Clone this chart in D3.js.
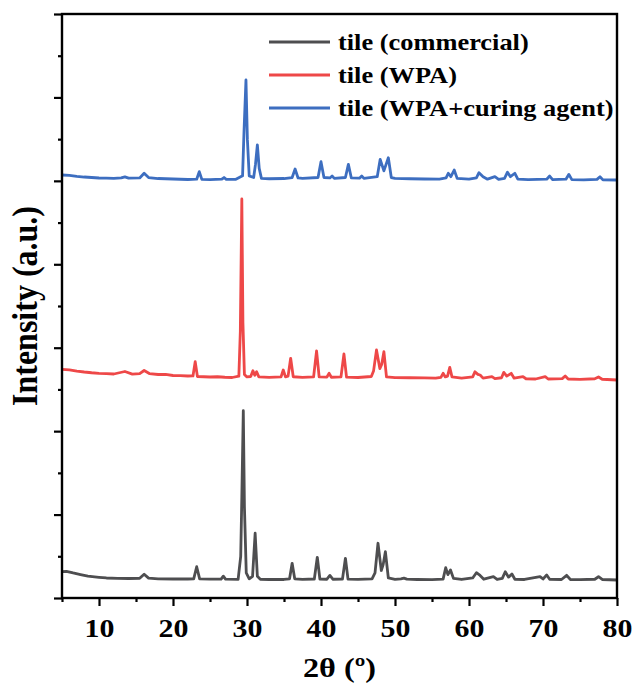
<!DOCTYPE html>
<html><head><meta charset="utf-8">
<script src="https://cdn.jsdelivr.net/npm/d3@7"></script>
<style>
body{margin:0;background:#fff}
svg{display:block}
text{font-family:"Liberation Serif","Times New Roman",serif;font-weight:bold;fill:#000}
</style>
</head><body>
<svg id="c" width="635" height="684"></svg>
<script>
// ---- data (2θ in degrees, stacked intensity in a.u.) ----
const seriesNames = ["tile (commercial)", "tile (WPA)", "tile (WPA+curing agent)"];
const seriesColors = ["#4e4e50", "#ee4848", "#3d6ec0"];

const commercial = [[5,0.315],[5.6,0.32],[6.5,0.30],[7.5,0.28],[8.5,0.262],[10,0.248],[11,0.24],[12.5,0.236],[14,0.234],[15.5,0.236],[16.1,0.285],[16.7,0.238],[18,0.23],[20,0.228],[22,0.228],[22.8,0.23],[23.2,0.375],[23.6,0.23],[25,0.226],[26.5,0.226],[26.8,0.262],[27.1,0.226],[28.8,0.224],[29.15,0.5],[29.3,1.2],[29.5,2.245],[29.65,1.1],[29.9,0.3],[30.3,0.23],[30.75,0.26],[31.1,0.776],[31.4,0.26],[31.8,0.225],[33,0.222],[35,0.222],[35.75,0.23],[36.1,0.416],[36.45,0.23],[37.5,0.224],[39.1,0.228],[39.5,0.488],[39.85,0.228],[40.8,0.225],[41.2,0.27],[41.6,0.225],[42.9,0.226],[43.3,0.476],[43.65,0.226],[45,0.224],[46.9,0.23],[47.3,0.3],[47.7,0.656],[48.15,0.33],[48.4,0.4],[48.7,0.555],[49.1,0.24],[50,0.224],[50.8,0.23],[51.2,0.238],[51.6,0.226],[53,0.222],[55,0.22],[56.5,0.226],[56.85,0.363],[57.15,0.28],[57.5,0.336],[57.9,0.235],[59,0.222],[60.5,0.24],[61,0.303],[61.5,0.27],[62,0.225],[63.3,0.255],[63.8,0.222],[64.5,0.235],[64.9,0.315],[65.35,0.25],[65.8,0.288],[66.2,0.225],[67.5,0.222],[69.6,0.255],[70,0.228],[70.5,0.276],[70.9,0.225],[72.5,0.222],[73.2,0.272],[73.7,0.222],[75,0.22],[77,0.225],[77.5,0.255],[78,0.222],[80,0.216]];

const wpa = [[5,2.741],[6,2.735],[7,2.72],[8,2.709],[9,2.70],[10,2.693],[11,2.69],[12,2.685],[13.5,2.715],[14.5,2.684],[15.5,2.69],[16.1,2.727],[16.8,2.69],[18,2.679],[19,2.68],[20,2.667],[21,2.665],[22,2.661],[22.7,2.662],[23.0,2.832],[23.3,2.655],[25,2.649],[26,2.652],[27,2.646],[28,2.643],[28.9,2.66],[29.1,3.2],[29.3,4.783],[29.45,3.3],[29.65,2.68],[30,2.65],[30.5,2.655],[30.8,2.724],[31.05,2.67],[31.3,2.712],[31.6,2.65],[33,2.645],[34.6,2.65],[34.9,2.733],[35.2,2.65],[35.55,2.66],[35.9,2.873],[36.25,2.652],[37.5,2.645],[39,2.65],[39.4,2.961],[39.75,2.65],[40.8,2.648],[41.1,2.693],[41.4,2.646],[42.7,2.65],[43.1,2.925],[43.45,2.648],[45,2.643],[46.8,2.655],[47.1,2.72],[47.5,2.973],[47.95,2.75],[48.2,2.80],[48.5,2.952],[48.85,2.65],[50,2.642],[52,2.64],[54,2.638],[55.5,2.635],[56.2,2.645],[56.5,2.693],[56.8,2.65],[57.1,2.66],[57.4,2.765],[57.7,2.65],[59,2.635],[60.5,2.65],[60.8,2.712],[61.2,2.68],[61.5,2.673],[61.9,2.635],[63.1,2.653],[63.5,2.63],[64.4,2.64],[64.7,2.705],[65.1,2.66],[65.7,2.693],[66.1,2.635],[67.3,2.653],[67.7,2.628],[69,2.625],[70.3,2.653],[70.7,2.625],[72.6,2.63],[73,2.661],[73.4,2.625],[75,2.62],[77,2.628],[77.5,2.649],[78,2.622],[80,2.613]];

const wpaCuring = [[5,5.07],[6,5.066],[7,5.055],[8,5.046],[9,5.04],[10,5.034],[11,5.033],[12,5.03],[13,5.035],[13.5,5.048],[14,5.032],[15.5,5.035],[16.1,5.091],[16.7,5.04],[18,5.028],[20,5.022],[22,5.016],[23.2,5.02],[23.55,5.11],[23.9,5.018],[25,5.015],[26.6,5.02],[26.9,5.04],[27.2,5.018],[28.5,5.018],[29.4,5.06],[29.6,5.6],[29.86,6.209],[30.05,5.5],[30.3,5.06],[30.9,5.04],[31.15,5.2],[31.4,5.43],[31.65,5.15],[31.95,5.03],[33,5.025],[35,5.028],[36.1,5.04],[36.5,5.142],[36.9,5.035],[37.5,5.03],[39.6,5.04],[40.0,5.23],[40.4,5.04],[41.2,5.035],[41.5,5.058],[41.8,5.03],[43.3,5.04],[43.7,5.198],[44.1,5.035],[45.2,5.032],[45.5,5.058],[45.8,5.03],[47.6,5.05],[48.0,5.258],[48.5,5.12],[49.1,5.277],[49.5,5.04],[50,5.03],[52,5.025],[54,5.022],[56,5.02],[56.9,5.035],[57.2,5.091],[57.55,5.05],[58.0,5.13],[58.4,5.03],[60,5.02],[61,5.035],[61.35,5.098],[61.9,5.05],[62.5,5.02],[63.5,5.05],[64,5.018],[64.8,5.03],[65.2,5.104],[65.6,5.05],[66.2,5.091],[66.6,5.02],[68,5.015],[70.5,5.02],[70.9,5.058],[71.3,5.015],[73.1,5.02],[73.5,5.078],[73.9,5.015],[75.5,5.012],[77.3,5.018],[77.7,5.05],[78.1,5.012],[80,5.01]];

const xMajorTicks = [10,20,30,40,50,60,70,80];
const xMinorTicks = [5,15,25,35,45,55,65,75];
const yMajorTicks = [0,1,2,3,4,5,6,7];
const yMinorTicks = [0.5,1.5,2.5,3.5,4.5,5.5,6.5];
const xTitle = "2θ (º)";
const yTitle = "Intensity (a.u.)";

// ---- drawing ----
const FONT = '"Liberation Serif","Times New Roman",serif';
const svg = d3.select("#c");
const L = 62, R = 617, T = 14, B = 598;
const x = d3.scaleLinear().domain([5,80]).range([L,R]);
const y = d3.scaleLinear().domain([0,7]).range([B,T]);

const allSeries = [commercial, wpa, wpaCuring];
const line = d3.line().x(d=>x(d[0])).y(d=>y(d[1]));

svg.append("g").selectAll("path").data(allSeries).join("path")
  .attr("d", line).attr("fill","none")
  .attr("stroke",(d,i)=>seriesColors[i]).attr("stroke-width",2.8)
  .attr("stroke-linejoin","round");

// frame
svg.append("rect").attr("x",L).attr("y",T).attr("width",R-L).attr("height",B-T)
  .attr("fill","none").attr("stroke","#000").attr("stroke-width",2.4);

function styleAxis(g){
  g.select(".domain").remove();
  g.selectAll(".tick line").attr("stroke","#000").attr("stroke-width",2.2);
}
const xAx = svg.append("g").attr("transform",`translate(0,${B})`)
  .call(d3.axisBottom(x).tickValues(xMajorTicks).tickSize(8).tickPadding(13).tickFormat(d3.format("d")));
styleAxis(xAx);
xAx.attr("font-family",null).attr("font-size",null);
xAx.selectAll("text").style("font-size","26px").style("font-family",FONT).style("font-weight","bold")
  .style("fill","#000").attr("transform","scale(1.15,1)");
const xAxm = svg.append("g").attr("transform",`translate(0,${B})`)
  .call(d3.axisBottom(x).tickValues(xMinorTicks).tickSize(4).tickFormat(""));
styleAxis(xAxm);
const yAx = svg.append("g").attr("transform",`translate(${L},0)`)
  .call(d3.axisLeft(y).tickValues(yMajorTicks).tickSize(8).tickFormat(""));
styleAxis(yAx);
const yAxm = svg.append("g").attr("transform",`translate(${L},0)`)
  .call(d3.axisLeft(y).tickValues(yMinorTicks).tickSize(4).tickFormat(""));
styleAxis(yAxm);

svg.append("text").attr("transform",`translate(${(L+R)/2},677) scale(1.15,1)`).attr("text-anchor","middle")
  .style("font-size","28px").text(xTitle);
svg.append("text").attr("transform",`translate(37,${(T+B)/2}) rotate(-90) scale(1,1.1)`)
  .attr("text-anchor","middle").style("font-size","32px").text(yTitle);

// legend
const lg = svg.append("g");
seriesNames.forEach((n,i)=>{
  const yy = 42 + i*33;
  lg.append("line").attr("x1",269).attr("x2",330).attr("y1",yy).attr("y2",yy)
    .attr("stroke",seriesColors[i]).attr("stroke-width",2.8);
  lg.append("text").attr("transform",`translate(338,${yy+8}) scale(1.1,1)`).style("font-size","24px").text(n);
});
</script>
</body></html>
